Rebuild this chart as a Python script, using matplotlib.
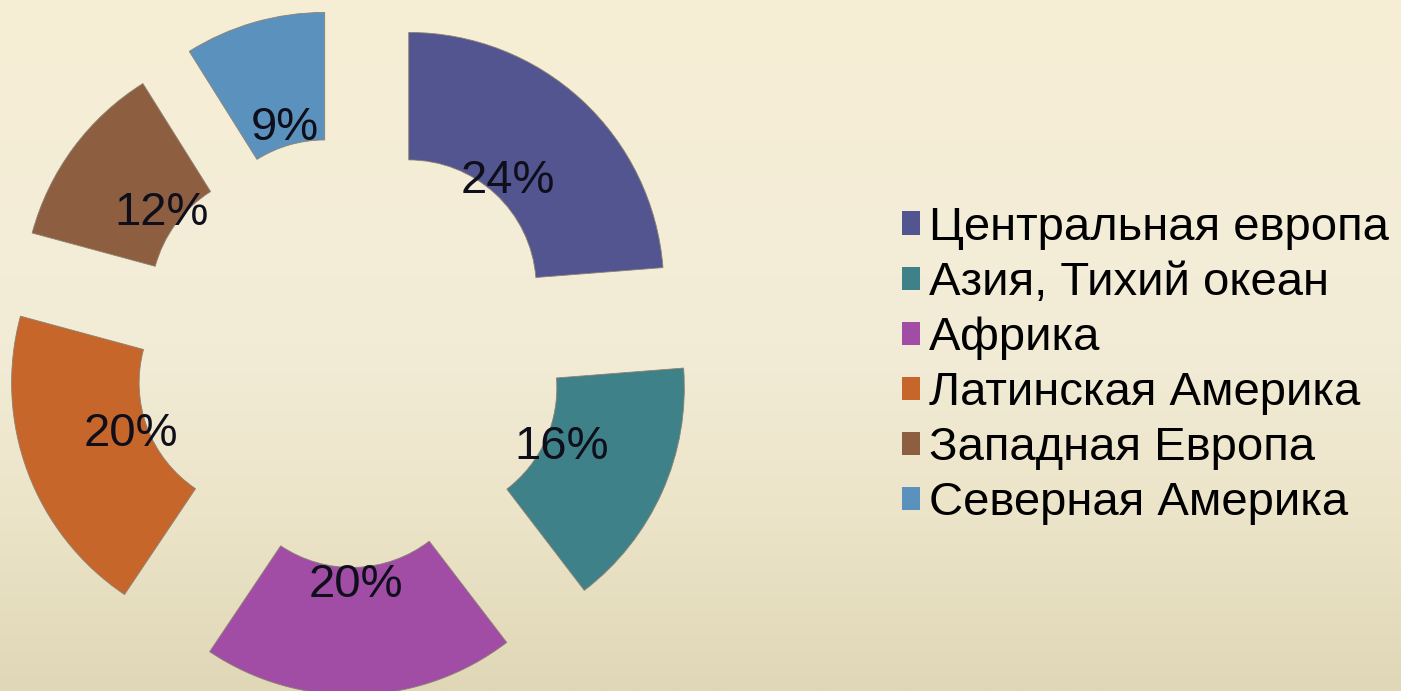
import numpy as np
import matplotlib
matplotlib.use('Agg')
import matplotlib.pyplot as plt
from matplotlib.colors import LinearSegmentedColormap

# data
regions = ['Центральная европа', 'Азия, Тихий океан', 'Африка',
           'Латинская Америка', 'Западная Европа', 'Северная Америка']
shares = [24, 16, 20, 20, 12, 9]
colors = ['#535590', '#3f8188', '#a14da6', '#c7662b', '#8e5e40', '#5b92bd']

plt.rcParams['font.family'] = ['Liberation Sans', 'DejaVu Sans']

fig = plt.figure(figsize=(14.01, 6.91), dpi=100)

# background gradient
bg = fig.add_axes([0, 0, 1, 1])
bg.axis('off')
grad = LinearSegmentedColormap.from_list(
    'bg', [(0, '#f7eed5'), (0.5, '#f2ecd7'), (0.75, '#ece4c8'), (1, '#e0d7b7')])
bg.imshow(np.linspace(0, 1, 256).reshape(-1, 1), aspect='auto', cmap=grad,
          extent=[0, 1, 0, 1], origin='upper')
bg.set_xlim(0, 1)
bg.set_ylim(0, 1)

# donut, 1 unit = 255 px, centre at (349, 352) px from top-left
ax = fig.add_axes([0, 0, 1, 1])
ax.axis('off')
ax.patch.set_alpha(0)
wedges, texts, autotexts = ax.pie(
    shares, colors=colors, startangle=90, counterclock=False,
    explode=[0.345] * len(shares), radius=1.0,
    wedgeprops=dict(width=0.5, edgecolor='#8c8272', linewidth=0.6),
    autopct=lambda p: f'{p:.0f}%', pctdistance=0.57,
    textprops=dict(fontsize=34, color='#0f0f1c'))
ax.set_aspect('equal')
ax.set_xlim(-349 / 255, (1401 - 349) / 255)
ax.set_ylim(-(691 - 352) / 255, 352 / 255)

leg = fig.legend(wedges, regions, loc='upper left',
                 bbox_to_anchor=(902 / 1401, 1 - 206 / 691),
                 frameon=False, fontsize=34, handlelength=0.38, handleheight=0.38,
                 handletextpad=0.2, labelspacing=0.235, borderpad=0, borderaxespad=0)
for h in leg.legend_handles:
    h.set_edgecolor('none')

fig.savefig('out.png', dpi=100)
